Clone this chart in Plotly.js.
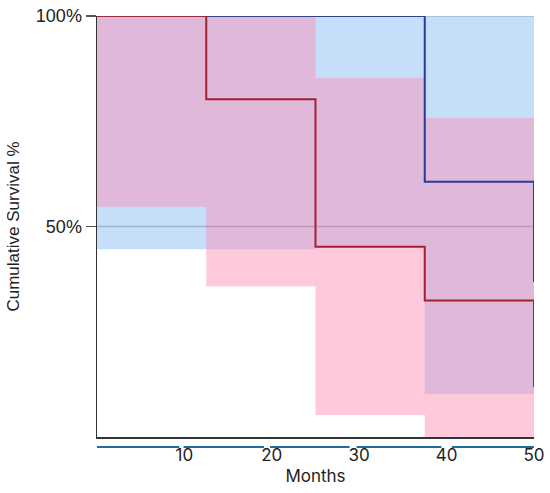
<!DOCTYPE html>
<html>
<head>
<meta charset="utf-8">
<script src="https://cdn.plot.ly/plotly-3.0.1.min.js"></script>
<style>html,body{margin:0;padding:0;background:#fff;}#chart{width:550px;height:493px;}</style>
</head>
<body>
<div id="chart"></div>
<script>
// Event times (months)
var times = [0, 12.5, 25, 37.5, 50];
// Group A (blue) survival and confidence band
var survA = [100, 100, 100, 60.6, 36.9];
var bandALower = [44.6, 44.6, 45.0, 10.2, 10.2];
var bandAUpper = [100, 100, 100, 100, 100];
// Group B (red) survival and confidence band
var survB = [100, 80.2, 45.2, 32.4, 11.9];
var bandBLower = [54.7, 35.8, 5.2, 0, 0];
var bandBUpper = [100, 100, 85.3, 75.8, 75.8];
// Axis ticks
var xTicks = [10, 20, 30, 40, 50];
var yTicks = [50, 100];
var yTickLabels = ['50%', '100%'];

var traces = [
  {x: times, y: bandALower, mode: 'lines', line: {shape: 'hv', width: 0}, hoverinfo: 'skip', showlegend: false},
  {x: times, y: bandAUpper, mode: 'lines', line: {shape: 'hv', width: 0}, fill: 'tonexty', fillcolor: '#c5dffb', hoverinfo: 'skip', showlegend: false},
  {x: times, y: bandBLower, mode: 'lines', line: {shape: 'hv', width: 0}, hoverinfo: 'skip', showlegend: false},
  {x: times, y: bandBUpper, mode: 'lines', line: {shape: 'hv', width: 0}, fill: 'tonexty', fillcolor: 'rgba(255,140,180,0.47)', hoverinfo: 'skip', showlegend: false},
  {x: times, y: survA, mode: 'lines', line: {shape: 'hv', width: 2, color: '#2b3a93'}, showlegend: false},
  {x: times, y: survB, mode: 'lines', line: {shape: 'hv', width: 2, color: '#a51f33'}, showlegend: false}
];

var shapes = [];
yTicks.forEach(function (v) {
  shapes.push({type: 'line', xref: 'paper', yref: 'y', x0: 0, x1: 1, y0: v, y1: v,
    line: {color: 'rgba(90,90,90,0.3)', width: 1.5}, layer: 'above'});
});
// segmented teal line below the x axis
var segs = [[0, 9.4], [9.9, 19.1], [19.8, 28.9], [29.7, 39.4], [40.6, 50]];
segs.forEach(function (s) {
  shapes.push({type: 'line', xref: 'x', yref: 'paper', x0: s[0], x1: s[1], y0: -0.0235, y1: -0.0235,
    line: {color: '#1d6f97', width: 2}});
});

var layout = {
  width: 550, height: 493,
  margin: {l: 97, r: 16, t: 16, b: 56, pad: 0},
  paper_bgcolor: '#fff', plot_bgcolor: '#fff',
  showlegend: false,
  xaxis: {
    range: [0, 50], tickvals: xTicks, ticktext: xTicks.map(String),
    showgrid: false, zeroline: false,
    showline: true, linecolor: '#333', linewidth: 1.5,
    ticks: 'outside', ticklen: 2, tickcolor: 'rgba(0,0,0,0)',
    tickfont: {family: 'Inter, sans-serif', size: 17, color: '#222'},
    title: {text: 'Months', font: {family: 'Inter, sans-serif', size: 17, color: '#222'}, standoff: 6}
  },
  yaxis: {
    range: [0, 100], tickvals: yTicks, ticktext: yTickLabels,
    showgrid: false, zeroline: false,
    showline: true, linecolor: '#333', linewidth: 1.5,
    ticks: 'outside', ticklen: 10, tickcolor: '#555', tickwidth: 1.5,
    tickfont: {family: 'Liberation Sans, Arial, sans-serif', size: 18, color: '#222'},
    title: {text: 'Cumulative Survival %', font: {family: 'Liberation Sans, Arial, sans-serif', size: 17, color: '#222'}, standoff: 12}
  },
  shapes: shapes
};

Plotly.newPlot('chart', traces, layout, {displayModeBar: false, staticPlot: true});
</script>
</body>
</html>
